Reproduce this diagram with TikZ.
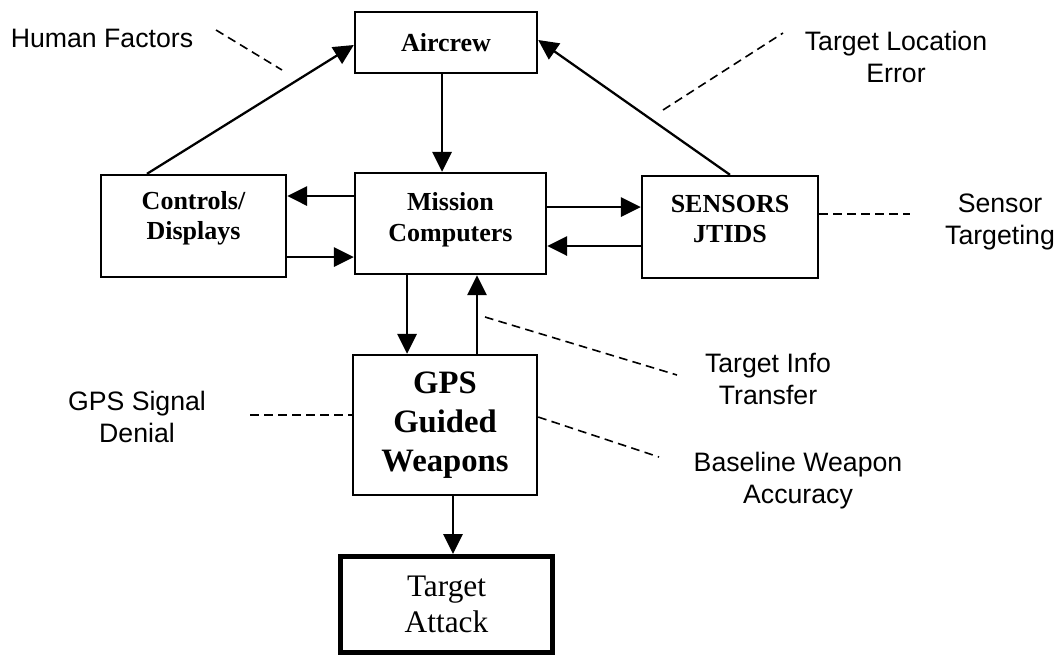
\documentclass[tikz,border=0pt]{standalone}
\usepackage{fontspec}
\setmainfont{Liberation Serif}
\setsansfont{Liberation Sans}
\usetikzlibrary{arrows.meta}

\tikzset{
  blk/.style={draw, line width=1.8pt, inner sep=0pt, align=center,
    font=\bfseries\fontsize{19.5}{23}\selectfont},
  lbl/.style={inner sep=0pt, align=center, font=\sffamily\fontsize{20}{24}\selectfont},
  arr/.style={line width=1.7pt, -{Triangle[length=15pt,width=14.5pt]}},
  dsh/.style={line width=1.2pt, dash pattern=on 6.5pt off 4pt},
}

\begin{document}
\begin{tikzpicture}[x=0.75pt,y=0.75pt]
    \useasboundingbox (0,0) rectangle (1059,-658);

    \node[blk, minimum width=136.5pt, minimum height=45.75pt] (air) at (446,-42.5) {Aircrew};
    \node[blk, minimum width=138.75pt, minimum height=76.5pt, text depth=16pt] (cd) at (193.5,-226) {Controls/\\Displays};
    \node[blk, minimum width=143.25pt, minimum height=75.75pt, text depth=10pt] (mc) at (450.5,-223.5) {Mission\\Computers};
    \node[blk, minimum width=132pt, minimum height=76.5pt, text depth=12pt] (sen) at (730,-227) {SENSORS\\JTIDS};
    \node[blk, minimum width=138pt, minimum height=105pt,
      font=\bfseries\fontsize{24.5}{29}\selectfont] (gps) at (445,-425) {GPS\\Guided\\Weapons};
    \node[blk, line width=3.75pt, minimum width=159pt, minimum height=72pt,
      font=\fontsize{23.5}{27.5}\selectfont] (tgt) at (446.5,-604.5) {Target\\Attack};

    \node[lbl, anchor=base] (hf) at (102,-47) {Human Factors};
    \node[lbl] (tle) at (896,-57) {Target Location\\Error};
    \node[lbl] (st) at (1000,-222) {Sensor\\Targeting};
    \node[lbl] (tit) at (768,-379) {Target Info\\Transfer};
    \node[lbl] (bwa) at (798,-481) {Baseline Weapon\\Accuracy};
    \node[lbl] (gsd) at (137,-416.5) {GPS Signal\\Denial};

    % free ends of the dashed lines
    \coordinate (hf1) at (216,-30);
    \coordinate (hf2) at (282,-70);
    \coordinate (tle1) at (663,-110);
    \coordinate (tle2) at (783,-33);
    \coordinate (st1) at (910,-214);
    \coordinate (tit1) at (485,-317);
    \coordinate (tit2) at (677,-375);
    \coordinate (bwa1) at (659,-457);
    \coordinate (gsd1) at (250,-415);

    \draw[arr] (air.south -| 442,0) -- (mc.north -| 442,0);
    \draw[arr] (cd.north -| 147,0) -- (air.west |- 0,-45);
    \draw[arr] (sen.north) -- (air.east |- 0,-40);
    \draw[arr] (mc.west |- 0,-196) -- (cd.east |- 0,-196);
    \draw[arr] (cd.east |- 0,-257) -- (mc.west |- 0,-257);
    \draw[arr] (mc.east |- 0,-207) -- (sen.west |- 0,-207);
    \draw[arr] (sen.west |- 0,-246) -- (mc.east |- 0,-246);
    \draw[arr] (mc.south -| 407,0) -- (gps.north -| 407,0);
    \draw[arr] (gps.north -| 477,0) -- (mc.south -| 477,0);
    \draw[arr] (gps.south -| 453,0) -- (tgt.north -| 453,0);

    \draw[dsh] (hf1) -- (hf2);
    \draw[dsh] (tle1) -- (tle2);
    \draw[dsh] (sen.east |- st1) -- (st1);
    \draw[dsh] (tit1) -- (tit2);
    \draw[dsh] (gps.east |- 0,-417) -- (bwa1);
    \draw[dsh] (gsd1) -- (gps.west |- gsd1);
  \end{tikzpicture}
\end{document}
